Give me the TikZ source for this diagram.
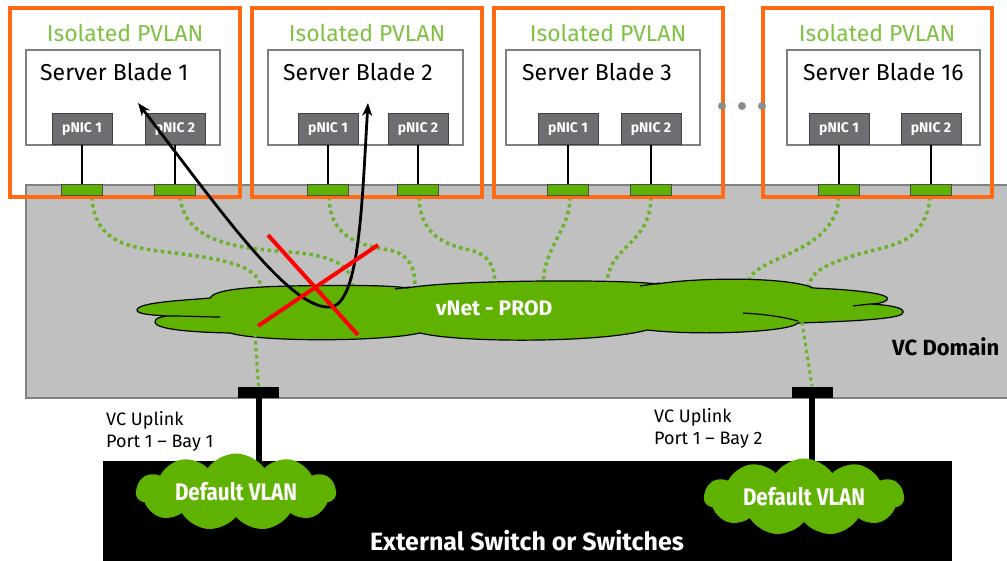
\documentclass[tikz,border=0pt]{standalone}
\usepackage{fontspec}
\setmainfont{Fira Sans}
\newfontfamily\condfont[FakeStretch=0.86]{Fira Sans}
\usetikzlibrary{shapes.symbols,arrows.meta}
\definecolor{hporange}{HTML}{FF6A13}
\definecolor{pvgreen}{HTML}{7DC242}
\definecolor{cloudgreen}{HTML}{5FB300}
\definecolor{dotgreen}{HTML}{6AB42D}
\definecolor{domgray}{HTML}{C0C0C0}
\definecolor{domedge}{HTML}{808080}
\definecolor{nicgray}{HTML}{6D6E71}
\begin{document}
\begin{tikzpicture}[x=1pt,y=-1pt,
  pvbox/.style={draw=hporange,line width=4pt},
  bladebox/.style={draw=domedge,fill=white,line width=2.5pt},
  pvtext/.style={text=pvgreen,font=\fontsize{23}{27}\selectfont,inner sep=0pt},
  bladetext/.style={font=\fontsize{23}{27}\selectfont,anchor=west,inner sep=0pt},
  nic/.style={draw=black!75,fill=nicgray,line width=1pt,minimum width=60pt,minimum height=31pt,inner sep=0pt,text=white,font=\fontsize{14}{16}\selectfont\bfseries},
  port/.style={draw=black!70,fill=cloudgreen,line width=1pt,minimum width=41pt,minimum height=11pt,inner sep=0pt},
  wire/.style={draw=black,line width=1.8pt},
  dotlink/.style={draw=dotgreen,line width=3.5pt,dash pattern=on 3.5pt off 3.5pt},
  uplink/.style={fill=black,minimum width=41pt,minimum height=11pt,inner sep=0pt},
  trunk/.style={draw=black,line width=6pt},
  vlancloud/.style={cloud,cloud puffs=11,cloud puff arc=110,aspect=3.2,fill=cloudgreen,minimum width=200pt,minimum height=60pt,inner sep=0pt,text=white,font=\condfont\fontsize{24}{26}\selectfont\bfseries},
  lbl/.style={font=\fontsize{18}{22}\selectfont,align=left,anchor=west,inner sep=0pt},
  flow/.style={draw=black,line width=2.8pt,{Stealth[length=13pt,width=10pt]}-{Stealth[length=13pt,width=10pt]}},
  block/.style={draw=red,line width=4pt}]
\useasboundingbox (0,0) rectangle (1007,561);

% VC domain
\draw[draw=domedge,fill=domgray,line width=2pt] (26,185) rectangle (1015,398);
\node[font=\fontsize{22}{24}\selectfont\bfseries,anchor=west,inner sep=0pt] (vcd) at (892,347) {VC Domain};

% ports (named first, drawn later on top)
\path (82,190.5) coordinate (p11) (175,190.5) coordinate (p12)
      (328,190.5) coordinate (p21) (418,190.5) coordinate (p22)
      (568,190.5) coordinate (p31) (651,190.5) coordinate (p32)
      (839,190.5) coordinate (p41) (931,190.5) coordinate (p42);

% cloud edge coordinates
\coordinate (c1) at (262,289);
\coordinate (c2) at (353,288);
\coordinate (c3) at (415,287);
\coordinate (c4) at (495,284);
\coordinate (c5) at (543,283);
\coordinate (c6) at (607,282);
\coordinate (c7) at (748,282);
\coordinate (c8) at (808,289);
\coordinate (c9) at (255,334);
\coordinate (c10) at (802,322);

% dotted links port -> cloud
\draw[dotlink] (92,197) .. controls (95,250) and (140,248) .. (190,255) .. controls (240,262) and (258,270) .. (c1);
\draw[dotlink] (180,197) .. controls (185,240) and (230,248) .. (290,252) .. controls (335,256) and (352,265) .. (c2);
\draw[dotlink] (329,197) .. controls (330,235) and (355,245) .. (390,250) .. controls (410,255) and (415,268) .. (c3);
\draw[dotlink] (419,197) .. controls (420,235) and (445,245) .. (470,250) .. controls (490,255) and (495,268) .. (c4);
\draw[dotlink] (570,197) .. controls (570,230) and (545,245) .. (c5);
\draw[dotlink] (651,197) .. controls (650,245) and (610,245) .. (c6);
\draw[dotlink] (839,197) .. controls (835,255) and (755,255) .. (c7);
\draw[dotlink] (930,197) .. controls (925,250) and (880,245) .. (850,257) .. controls (825,265) and (810,272) .. (c8);

% vNet-PROD cloud
\path[fill=cloudgreen,draw=black,line width=1.2pt]
  (137,310) .. controls (137,302) and (190,300) .. (210,298)
  .. controls (214,290) and (245,287) .. (290,286)
  .. controls (340,285) and (390,285) .. (407,288)
  .. controls (450,280) and (620,279) .. (657,284)
  .. controls (700,277) and (790,277) .. (813,288)
  .. controls (860,290) and (892,294) .. (887,300)
  .. controls (884,303) and (876,304) .. (870,304)
  .. controls (890,305) and (908,308) .. (902,314)
  .. controls (895,320) and (830,322) .. (798,323)
  .. controls (790,332) and (700,336) .. (647,330)
  .. controls (600,343) and (460,343) .. (420,333)
  .. controls (380,342) and (260,342) .. (230,333)
  .. controls (180,332) and (155,328) .. (155,322)
  .. controls (155,318) and (160,317) .. (168,316)
  .. controls (150,315) and (137,314) .. (137,310) -- cycle;
\draw[line width=1.2pt] (168,316) .. controls (190,316) and (205,317) .. (220,317);
\draw[line width=1.2pt] (870,304) -- (853,306);
\draw[line width=1.2pt] (798,321) .. controls (780,316) and (760,314) .. (743,313);
\draw[line width=1.2pt] (640,286) -- (660,283);
\draw[line width=1.2pt] (395,289) -- (410,287);
\node[text=white,font=\fontsize{21}{24}\selectfont\bfseries,inner sep=0pt] (vnet) at (494,308) {vNet - PROD};

% uplinks
\node[uplink] (up1) at (258.5,392) {};
\node[uplink] (up2) at (812,392) {};
\draw[dotlink,line width=3pt] (c9) -- (up1.north);
\draw[dotlink,line width=3pt] (c10) -- (up2.north);

% external switch
\node[fill=black,minimum width=849pt,minimum height=106pt,inner sep=0pt,anchor=north west] (sw) at (103,461) {};
\draw[trunk] (up1.south) -- (up1.south |- sw.north);
\draw[trunk] (up2.south) -- (up2.south |- sw.north);
\node[vlancloud] (dv1) at (236,492) {Default VLAN};
\node[vlancloud] (dv2) at (804,497) {Default VLAN};
\node[text=white,font=\fontsize{25}{28}\selectfont\bfseries,inner sep=0pt] (swt) at (527,541) {External Switch or Switches};
\node[lbl] (ul1) at (106,431) {VC Uplink\\Port 1 -- Bay 1};
\node[lbl] (ul2) at (654,428) {VC Uplink\\Port 1 -- Bay 2};

% isolated PVLAN boxes
\draw[pvbox] (10,8) rectangle (240,197);
\draw[pvbox] (252,8) rectangle (482,197);
\draw[pvbox] (494,8) rectangle (723,197);
\draw[pvbox] (763,8) rectangle (992,197);
\node[pvtext] (pv1) at (125,33) {Isolated PVLAN};
\node[pvtext] (pv2) at (367,33) {Isolated PVLAN};
\node[pvtext] (pv3) at (608,33) {Isolated PVLAN};
\node[pvtext] (pv4) at (877,33) {Isolated PVLAN};

% server blades
\draw[bladebox] (26,50) rectangle (220,145);
\draw[bladebox] (268,50) rectangle (463,145);
\draw[bladebox] (506,50) rectangle (700,145);
\draw[bladebox] (787,50) rectangle (980,145);
\node[bladetext] (sb1) at (40,72) {Server Blade 1};
\node[bladetext] (sb2) at (283,72) {Server Blade 2};
\node[bladetext] (sb3) at (522,72) {Server Blade 3};
\node[bladetext] (sb4) at (803,72) {Server Blade 16};

% pNICs
\foreach \n/\x/\t in {11/82/1,12/175/2,21/328/1,22/418/2,31/568/1,32/651/2,41/839/1,42/931/2}{
  \node[nic] (n\n) at (\x,129.5) {pNIC \t};
  \node[port] (q\n) at (p\n) {};
  \draw[wire] (n\n.south) -- (q\n.north);
}

% ellipsis dots
\fill[black!45] (722,106) circle[radius=4pt] (742,106) circle[radius=4pt] (762,106) circle[radius=4pt];

% blocked flow
\coordinate (a1) at (138,103);
\coordinate (a2) at (368,103);
\draw[flow] (a1) .. controls (220,210) and (290,310) .. (330,307) .. controls (360,305) and (362,200) .. (a2);
\coordinate (x1) at (268,235);
\coordinate (x2) at (358,335);
\coordinate (x3) at (258,326);
\coordinate (x4) at (378,245);
\draw[block] (x1) -- (x2);
\draw[block] (x3) -- (x4);
\end{tikzpicture}
\end{document}
